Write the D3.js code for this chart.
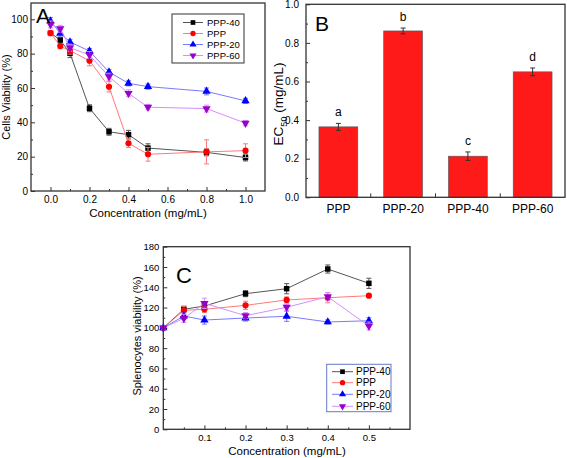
<!DOCTYPE html>
<html><head><meta charset="utf-8">
<script src="https://cdn.jsdelivr.net/npm/d3@7"></script>
<style>
body{margin:0;background:#fff;}
text{font-family:Arial,"Liberation Sans",sans-serif;}
</style></head>
<body><svg id="c" width="567" height="458"></svg>
<script>
// ---------- Panel A data ----------
const concA = [0, 0.05, 0.1, 0.2, 0.3, 0.4, 0.5, 0.8, 1.0];
const a_ppp40 = [92, 88, 80.2, 48.2, 34.5, 32.8, 25, 22.5, 19.5];
const a_ppp40Err = [1.5, 1.5, 2.5, 2, 2, 2.5, 2.5, 2, 2];
const a_ppp = [92, 84.4, 81.7, 75.9, 60.7, 27.8, 21.4, 22.8, 23.5];
const a_pppErr = [1.5, 1.5, 2, 3, 3, 2.5, 4, 7, 4];
const a_ppp20 = [99, 91.8, 86.8, 81.5, 69.3, 62.7, 60.8, 58, 52.5];
const a_ppp20Err = [2, 2, 1.5, 1.5, 1.5, 1.5, 1.5, 2, 1.5];
const a_ppp60 = [97, 94.5, 83.5, 79.2, 66.6, 56.9, 48.8, 48, 39.5];
const a_ppp60Err = [2, 2, 2, 2, 2, 2, 1.5, 2, 1.5];
const aXTicks = [0.0, 0.2, 0.4, 0.6, 0.8, 1.0];
const aYTicks = [0, 20, 40, 60, 80, 100];

// ---------- Panel B data ----------
const bCats = ["PPP", "PPP-20", "PPP-40", "PPP-60"];
const bVals = [0.365, 0.862, 0.213, 0.65];
const bErr = [0.018, 0.015, 0.022, 0.02];
const bLetters = ["a", "b", "c", "d"];
const bYTicks = [0.0, 0.2, 0.4, 0.6, 0.8, 1.0];

// ---------- Panel C data ----------
const concC = [0, 0.05, 0.1, 0.2, 0.3, 0.4, 0.5];
const c_ppp40 = [100, 118.3, 121.5, 133.7, 138.6, 158, 143.9];
const c_ppp40Err = [2, 3, 4, 3, 5, 4, 5];
const c_ppp = [100, 117.3, 118.3, 122.2, 127.5, 129.7, 131.7];
const c_pppErr = [2, 4, 3, 4, 3, 5, 1.5];
const c_ppp20 = [100, 111.7, 107.7, 109.7, 111.4, 105.8, 107];
const c_ppp20Err = [2, 3, 4, 3, 5, 2, 3];
const c_ppp60 = [100, 109.4, 124.2, 112, 120.3, 130.7, 101.8];
const c_ppp60Err = [2, 4, 5, 3, 3, 4, 4];
const cXTicks = [0.1, 0.2, 0.3, 0.4, 0.5];
const cYTicks = [0, 20, 40, 60, 80, 100, 120, 140, 160, 180];

const seriesNames = ["PPP-40", "PPP", "PPP-20", "PPP-60"];
const markerCol = ["#000000", "#ff0000", "#0000ff", "#9900cc"];
const lineCol = ["#555555", "#ff7a7a", "#7a7aff", "#d68cff"];
const symbols = [d3.symbolSquare, d3.symbolCircle, d3.symbolTriangle, d3.symbolTriangle];
const symSize = [30, 30, 30, 30];

const svg = d3.select("#c");

function frame(g, x0, y0, x1, y1) {
  g.append("rect").attr("x", x0).attr("y", y0).attr("width", x1 - x0).attr("height", y1 - y0)
    .attr("fill", "none").attr("stroke", "#333").attr("stroke-width", 1.3);
}

function inwardAxes(g, x, y, xt, xminor, yt, yminor, xfmt, yfmt, fs, xpad, ypad) {
  const [xa, xb] = x.range(); const [yb, ya] = y.range();
  const ax = g.append("g").attr("transform", `translate(0,${yb})`)
    .call(d3.axisBottom(x).tickValues(xt).tickSizeInner(-4).tickSizeOuter(0).tickPadding(xpad).tickFormat(xfmt));
  ax.select(".domain").remove();
  ax.selectAll("text").attr("font-size", fs).attr("fill", "#000");
  ax.selectAll("line").attr("stroke", "#333");
  const axm = g.append("g").attr("transform", `translate(0,${yb})`)
    .call(d3.axisBottom(x).tickValues(xminor).tickSizeInner(-2).tickSizeOuter(0).tickFormat(""));
  axm.select(".domain").remove(); axm.selectAll("line").attr("stroke", "#333");
  const ay = g.append("g").attr("transform", `translate(${xa},0)`)
    .call(d3.axisLeft(y).tickValues(yt).tickSizeInner(-4).tickSizeOuter(0).tickPadding(ypad).tickFormat(yfmt));
  ay.select(".domain").remove();
  ay.selectAll("text").attr("font-size", fs).attr("fill", "#000");
  ay.selectAll("line").attr("stroke", "#333");
  const aym = g.append("g").attr("transform", `translate(${xa},0)`)
    .call(d3.axisLeft(y).tickValues(yminor).tickSizeInner(-2).tickSizeOuter(0).tickFormat(""));
  aym.select(".domain").remove(); aym.selectAll("line").attr("stroke", "#333");
}

function drawSeries(g, x, y, xs, vals, errs, i, cap) {
  const pts = xs.map((c, k) => ({ x: c, v: vals[k], e: errs[k] }));
  g.append("path").datum(pts).attr("fill", "none").attr("stroke", lineCol[i]).attr("stroke-width", 1)
    .attr("d", d3.line().x(d => x(d.x)).y(d => y(d.v)));
  const eb = g.append("g");
  pts.forEach(d => {
    const cx = x(d.x), y1 = y(d.v - d.e), y2 = y(d.v + d.e);
    eb.append("line").attr("x1", cx).attr("x2", cx).attr("y1", y1).attr("y2", y2).attr("stroke", lineCol[i]).attr("stroke-width", 1);
    eb.append("line").attr("x1", cx - cap).attr("x2", cx + cap).attr("y1", y1).attr("y2", y1).attr("stroke", lineCol[i]).attr("stroke-width", 1);
    eb.append("line").attr("x1", cx - cap).attr("x2", cx + cap).attr("y1", y2).attr("y2", y2).attr("stroke", lineCol[i]).attr("stroke-width", 1);
  });
  const sym = d3.symbol().type(symbols[i]).size(symSize[i]);
  g.append("g").selectAll("path").data(pts).join("path")
    .attr("d", sym)
    .attr("transform", d => `translate(${x(d.x)},${y(d.v)})` + (i === 3 ? " rotate(180)" : ""))
    .attr("fill", markerCol[i]);
}

function legend(g, x0, y0, x1, y1, rows, lx0, lx1, tx, fs, border) {
  g.append("rect").attr("x", x0).attr("y", y0).attr("width", x1 - x0).attr("height", y1 - y0)
    .attr("fill", "#fff").attr("stroke", border).attr("stroke-width", 1);
  rows.forEach((ry, i) => {
    g.append("line").attr("x1", lx0).attr("x2", lx1).attr("y1", ry).attr("y2", ry).attr("stroke", lineCol[i]).attr("stroke-width", 1);
    g.append("path").attr("d", d3.symbol().type(symbols[i]).size(22))
      .attr("transform", `translate(${(lx0 + lx1) / 2},${ry})` + (i === 3 ? " rotate(180)" : ""))
      .attr("fill", markerCol[i]);
    g.append("text").attr("x", tx).attr("y", ry + fs * 0.36).attr("font-size", fs).text(seriesNames[i]);
  });
}

// ================= Panel A =================
{
  const g = svg.append("g");
  const x = d3.scaleLinear().domain([-0.1, 1.1]).range([31, 265]);
  const y = d3.scaleLinear().domain([0, 109.5]).range([191, 3]);
  inwardAxes(g, x, y, aXTicks, [0.1, 0.3, 0.5, 0.7, 0.9], aYTicks, [10, 30, 50, 70, 90],
    d3.format(".1f"), d3.format("d"), 10, 5, 3);
  const sets = [[a_ppp40, a_ppp40Err], [a_ppp, a_pppErr], [a_ppp20, a_ppp20Err], [a_ppp60, a_ppp60Err]];
  sets.forEach((s, i) => drawSeries(g, x, y, concA, s[0], s[1], i, 2.5));
  frame(g, 31, 3, 265, 191);
  legend(g, 172, 14, 244, 63, [22.5, 33.5, 44.5, 55.5], 183, 203, 207, 9.5, "#333");
  g.append("text").attr("x", 36).attr("y", 23).attr("font-size", 21).text("A");
  g.append("text").attr("transform", "translate(10,97) rotate(-90)").attr("text-anchor", "middle")
    .attr("font-size", 11).text("Cells Viability (%)");
  g.append("text").attr("x", 148).attr("y", 217).attr("text-anchor", "middle").attr("font-size", 11.5)
    .text("Concentration (mg/mL)");
}

// ================= Panel B =================
{
  const g = svg.append("g");
  const x = d3.scaleBand().domain(bCats).range([306, 565]).paddingInner(0.4).paddingOuter(0.2);
  const y = d3.scaleLinear().domain([0, 1.0]).range([197.3, 4.3]);
  g.selectAll("rect.bar").data(bCats).join("rect").attr("class", "bar")
    .attr("x", d => x(d)).attr("width", x.bandwidth())
    .attr("y", (d, i) => y(bVals[i])).attr("height", (d, i) => y(0) - y(bVals[i]))
    .attr("fill", "#ff1a1a").attr("stroke", "#555").attr("stroke-width", 0.6);
  bCats.forEach((c, i) => {
    const cx = x(c) + x.bandwidth() / 2;
    const y1 = y(bVals[i] - bErr[i]), y2 = y(bVals[i] + bErr[i]);
    g.append("line").attr("x1", cx).attr("x2", cx).attr("y1", y1).attr("y2", y2).attr("stroke", "#333");
    g.append("line").attr("x1", cx - 2.5).attr("x2", cx + 2.5).attr("y1", y1).attr("y2", y1).attr("stroke", "#333");
    g.append("line").attr("x1", cx - 2.5).attr("x2", cx + 2.5).attr("y1", y2).attr("y2", y2).attr("stroke", "#333");
    g.append("text").attr("x", cx).attr("y", y2 - 7).attr("text-anchor", "middle").attr("font-size", 12).text(bLetters[i]);
  });
  // y axis
  const ay = g.append("g").attr("transform", "translate(306,0)")
    .call(d3.axisLeft(y).tickValues(bYTicks).tickSizeInner(-4).tickSizeOuter(0).tickPadding(7).tickFormat(d3.format(".1f")));
  ay.select(".domain").remove();
  ay.selectAll("text").attr("font-size", 10);
  ay.selectAll("line").attr("stroke", "#333");
  const aym = g.append("g").attr("transform", "translate(306,0)")
    .call(d3.axisLeft(y).tickValues([0.1, 0.3, 0.5, 0.7, 0.9]).tickSizeInner(-2).tickSizeOuter(0).tickFormat(""));
  aym.select(".domain").remove(); aym.selectAll("line").attr("stroke", "#333");
  // x axis: labels at band centres, ticks between bands
  const ax = g.append("g").attr("transform", "translate(0,197.3)")
    .call(d3.axisBottom(x).tickSize(0).tickPadding(7));
  ax.select(".domain").remove();
  ax.selectAll("text").attr("font-size", 12);
  bCats.slice(1).forEach(c => {
    const bx = x(c) - x.step() * x.paddingInner() / 2;
    g.append("line").attr("x1", bx).attr("x2", bx).attr("y1", 197.3).attr("y2", 193.3).attr("stroke", "#333");
  });
  frame(g, 306, 4.3, 565, 197.3);
  g.append("text").attr("x", 315).attr("y", 31).attr("font-size", 21).text("B");
  const t = g.append("text").attr("transform", "translate(283,104) rotate(-90)").attr("text-anchor", "middle")
    .attr("font-size", 13.5);
  t.append("tspan").text("EC");
  t.append("tspan").attr("font-size", 9).attr("dy", 4).text("50");
  t.append("tspan").attr("dy", -4).text(" (mg/mL)");
}

// ================= Panel C =================
{
  const g = svg.append("g");
  const x = d3.scaleLinear().domain([0, 0.6]).range([163.3, 410]);
  const y = d3.scaleLinear().domain([0, 180]).range([429.3, 246.7]);
  inwardAxes(g, x, y, cXTicks, [0.05, 0.15, 0.25, 0.35, 0.45, 0.55], cYTicks,
    [10, 30, 50, 70, 90, 110, 130, 150, 170], d3.format(".1f"), d3.format("d"), 9.5, 5, 4);
  const sets = [[c_ppp40, c_ppp40Err], [c_ppp, c_pppErr], [c_ppp20, c_ppp20Err], [c_ppp60, c_ppp60Err]];
  sets.forEach((s, i) => drawSeries(g, x, y, concC, s[0], s[1], i, 2.5));
  frame(g, 163.3, 246.7, 410, 429.3);
  legend(g, 326.7, 364.3, 391, 411.7, [371.7, 382.7, 394.3, 406.3], 332, 353, 356, 10, "#6677cc");
  g.append("text").attr("x", 176).attr("y", 283).attr("font-size", 22)
    .attr("font-family", "'Open Sans', 'DejaVu Sans', sans-serif").text("C");
  g.append("text").attr("transform", "translate(141,336) rotate(-90)").attr("text-anchor", "middle")
    .attr("font-size", 11).text("Splenocytes viability (%)");
  g.append("text").attr("x", 287).attr("y", 455).attr("text-anchor", "middle").attr("font-size", 11.5)
    .text("Concentration (mg/mL)");
}
</script></body></html>
